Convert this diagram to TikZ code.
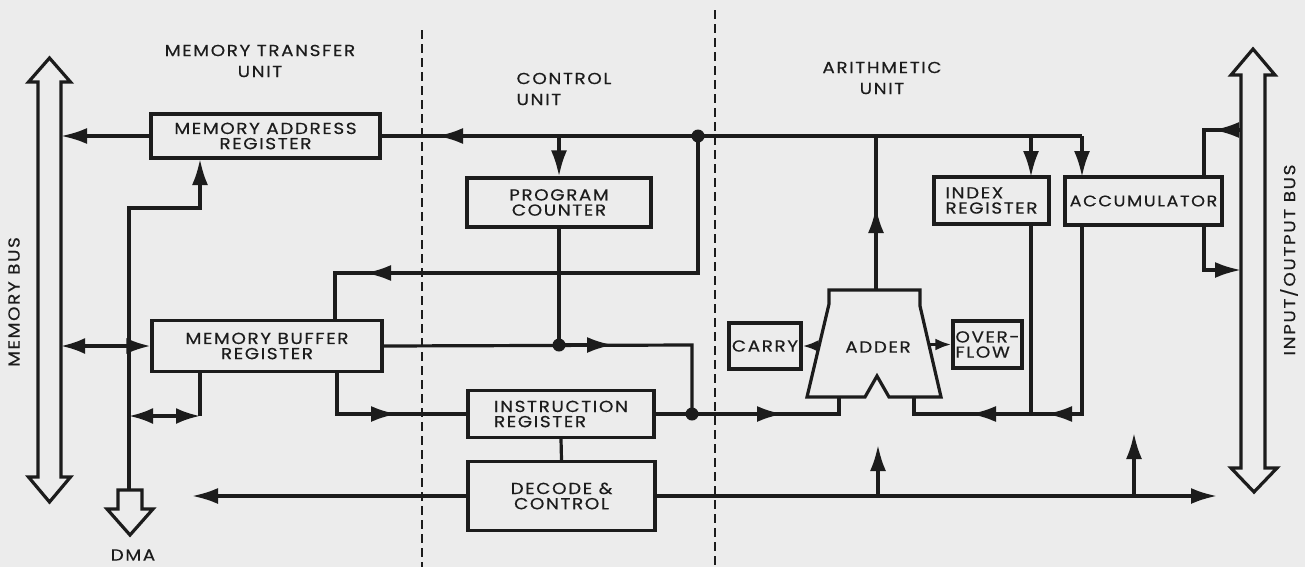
\documentclass[tikz,border=0pt]{standalone}
\usepackage{fontspec}
\setmainfont{Poppins}[FakeStretch=1.15,LetterSpace=10,FakeBold=0.4]
\usetikzlibrary{arrows.meta}
\definecolor{paper}{RGB}{236,236,236}
\definecolor{ink}{RGB}{28,28,28}

\begin{document}
\begin{tikzpicture}[x=0.5pt,y=-0.5pt,line width=1.6pt,color=ink,
    lbl/.style={font=\fontsize{8}{10.5}\selectfont,inner sep=0pt},
    box/.style={draw,line width=1.6pt,inner sep=0pt,align=center,font=\fontsize{8}{7.6}\selectfont},
    arr/.style={-{Latex[length=13pt,width=8pt]}},
    tarr/.style={-{Latex[length=8pt,width=6pt]}},
    dbl/.style={{Latex[length=12pt,width=8pt]}-{Latex[length=12pt,width=8pt]}},
    divider/.style={line width=1.1pt,dash pattern=on 4.5pt off 2.5pt},
    dot/.style={circle,fill=ink,inner sep=0pt,minimum size=6.5pt}]
    \fill[paper] (0,0) rectangle (1305,567);

    % unit borders
    \draw[divider] (422,30) -- (422,567);
    \draw[divider] (715,10) -- (715,567);
    \node[lbl,align=center] (umt) at (260,61) {MEMORY TRANSFER\\UNIT};
    \node[lbl,align=left,anchor=west] (ucu) at (515,89) {CONTROL\\UNIT};
    \node[lbl,align=center] (uau) at (882,78) {ARITHMETIC\\UNIT};

    % buses
    \draw[line width=1.6pt,fill=paper] (49.5,58) -- (70.5,82) -- (61,82) -- (61,477) -- (70.5,477) -- (49.5,502)
        -- (28.5,477) -- (38,477) -- (38,82) -- (28.5,82) -- cycle;
    \node[lbl,rotate=90] (lmb) at (14,302) {MEMORY BUS};
    \draw[line width=1.6pt,fill=paper] (1253,49) -- (1275,75) -- (1265,75) -- (1265,468) -- (1277,468) -- (1254,492)
        -- (1231,468) -- (1241,468) -- (1241,75) -- (1231,75) -- cycle;
    \node[lbl,rotate=90] (lio) at (1289,260) {INPUT/OUTPUT BUS};
    \draw[line width=1.6pt,fill=paper] (118,490) -- (142,490) -- (142,509) -- (153,509) -- (130,535)
        -- (107,509) -- (118,509) -- cycle;
    \node[lbl] (ldma) at (133,555) {DMA};

    % registers
    \node[box,minimum width=114.5pt,minimum height=22pt] (mar) at (265.5,136) {MEMORY ADDRESS\\REGISTER};
    \node[box,minimum width=115pt,minimum height=25.5pt] (mbr) at (267,346) {MEMORY BUFFER\\REGISTER};
    \node[box,minimum width=92pt,minimum height=24.5pt] (pc) at (559,202.5) {PROGRAM\\COUNTER};
    \node[box,align=left,minimum width=93pt,minimum height=23.5pt] (ir) at (561,414) {INSTRUCTION\\REGISTER};
    \node[box,minimum width=93.5pt,minimum height=34.5pt] (dec) at (561.5,496) {DECODE \&\\CONTROL};
    \node[box,minimum width=36pt,minimum height=23pt] (carry) at (765,346) {CARRY};
    \node[box,align=left,minimum width=34.5pt,minimum height=23.5pt] (ovf) at (987.5,344.5) {OVER-\\FLOW};
    \node[box,align=left,minimum width=57.5pt,minimum height=23.5pt] (idx) at (991.5,200.5) {INDEX\\REGISTER};
    \node[box,minimum width=78.5pt,minimum height=24pt,font=\fontsize{7.7}{7.6}\selectfont] (acc) at (1143.5,201) {ACCUMULATOR};

    % adder
    \draw[line width=1.6pt] (829,290) -- (920,290) -- (920,306) -- (941,397) -- (889,397) -- (877,376)
        -- (865,397) -- (807,397) -- (829,304) -- cycle;
    \node[lbl] (adder) at (878,347) {ADDER};
    \draw[tarr] (820,346) -- (carry.east);
    \draw[tarr] (930,344.5) -- (ovf.west);

    % junctions
    \coordinate (jtop) at (698,136);
    \coordinate (pcdot) at (559,345);
    \coordinate (irdot) at (692,414);

    % address path
    \draw[arr] (mar.west) -- (61,136);
    \draw (mar.east) -- (1082,136);
    \draw[arr] (jtop) -- (437,136);
    \draw[arr] (559,136) -- (pc.north);
    \draw[arr] (1031,136) -- (1031,177);
    \draw[arr] (1082,136) -- (1082,177);
    \draw (876,290) -- (876,136);
    \draw[arr] (876,290) -- (876,207);
    \draw (jtop) |- (335,273) -- (335,320);
    \draw[arr] (jtop) |- (365,273);

    % memory buffer paths
    \draw[dbl] (61,346) -- (mbr.west);
    \draw[arr] (129,490) |- (200,208) -- (200,159);
    \draw (200,371) -- (200,416);
    \draw[dbl] (129,416) -- (200,416);
    \draw (pc.south) -- (pcdot);
    \draw (mbr.east) -- (692,345) -- (irdot);
    \draw[arr] (pcdot) -- (613,345);
    \draw (337,371) |- (ir.west);
    \draw[arr] (337,371) |- (397,414);

    % adder inputs
    \draw (ir.east) -- (839,414) -- (839,397);
    \draw[arr] (irdot) -- (783,414);
    \draw (1082,225) |- (914,414) -- (914,397);
    \draw (1031,224) -- (1031,414);
    \draw[arr] (1082,225) |- (1046,414);
    \draw[arr] (1031,414) -- (970,414);

    % accumulator and i/o bus
    \draw (1241,130) -| (1204,177);
    \draw[arr] (1241,130) -- (1213,130);
    \draw[arr] (1204,225) |- (1241,270);

    % control lines
    \draw[arr] (dec.west) -- (192,496);
    \draw[arr] (dec.east) -- (1217,496);
    \draw (ir.south) -- (dec.north);
    \draw[arr] (878,496) -- (878,445);
    \draw[arr] (1134,496) -- (1134,433);

    \node[dot] at (jtop) {};
    \node[dot] at (pcdot) {};
    \node[dot] at (irdot) {};
\end{tikzpicture}
\end{document}
